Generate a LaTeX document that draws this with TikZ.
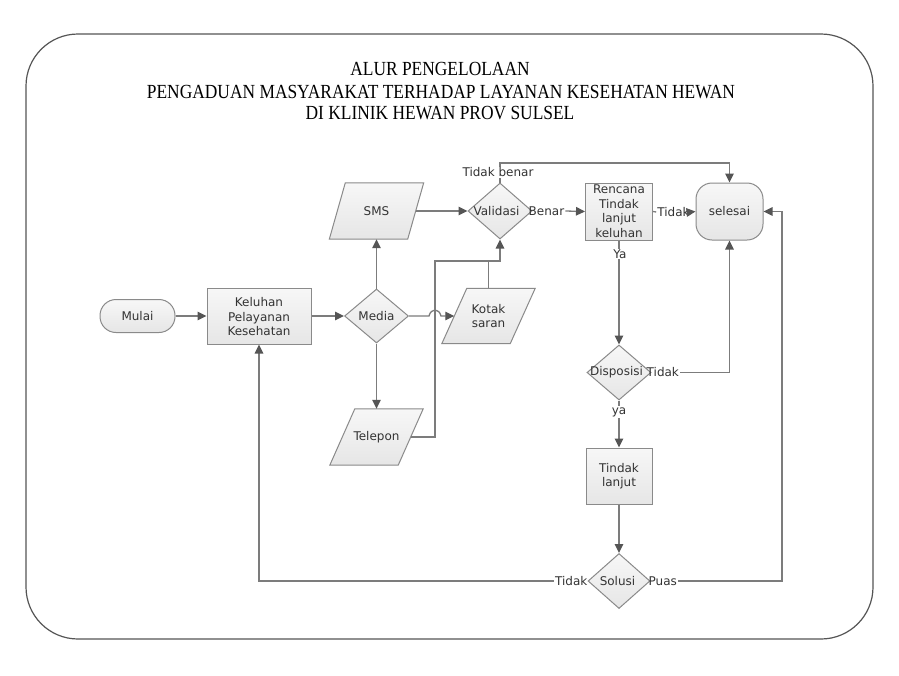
\documentclass[tikz,border=0pt]{standalone}
\usepackage{graphicx}
\usepackage{fontspec}
\setmainfont{Liberation Serif}
\newfontfamily\nodefont{DejaVu Sans}
\usetikzlibrary{arrows.meta,shapes.geometric,calc}
\definecolor{linec}{HTML}{7C7C7C}
\definecolor{arrc}{HTML}{555555}
\definecolor{bordc}{HTML}{8A8A8A}
\definecolor{txtc}{HTML}{333333}
\definecolor{fillt}{HTML}{F7F7F7}
\definecolor{fillb}{HTML}{E6E6E6}
\definecolor{framec}{HTML}{555555}
\begin{document}
\begin{tikzpicture}[x=1pt,y=-1pt,
  shapebox/.style={draw=bordc, line width=1pt, top color=fillt, bottom color=fillb, inner sep=0pt},
  decbox/.style={shapebox, diamond, minimum width=64pt, minimum height=56pt},
  holder/.style={draw=none, inner sep=0pt, rectangle},
  para/.style={draw=bordc, line width=1pt, top color=fillt, bottom color=fillb},
  txt/.style={font=\nodefont\fontsize{12}{14.5}\selectfont, text=txtc, align=center, inner sep=0pt},
  lab/.style={txt, inner sep=1pt},
  labw/.style={lab, fill=white},
  arr/.style={draw=linec, line width=1.3pt, -{Triangle[length=9pt,width=8.5pt,color=arrc]}},
  ln/.style={draw=linec, line width=1.3pt},
  ttl/.style={font=\fontsize{20}{22}\selectfont, anchor=base, inner sep=0pt, text=black}
]
\useasboundingbox (0,0) rectangle (899,675);
\fill[white] (0,0) rectangle (899,675);
% frame
\draw[framec, line width=1.2pt, rounded corners=52pt] (26,34) rectangle (873,639);

% title
\node[ttl] (t1) at (440,75.7) {\scalebox{0.87}[1]{ALUR PENGELOLAAN}};
\node[ttl] (t2) at (441,98.3) {\scalebox{0.87}[1]{PENGADUAN MASYARAKAT TERHADAP LAYANAN KESEHATAN HEWAN}};
\node[ttl] (t3) at (440,119.3) {\scalebox{0.87}[1]{DI KLINIK HEWAN PROV SULSEL}};

% shapes
\node[shapebox, rounded corners=16pt, minimum width=75pt, minimum height=33pt] (mulai) at (137.5,316) {};
\node[txt] (mulaiT) at (mulai) {Mulai};

\node[shapebox, minimum width=104pt, minimum height=56pt] (kel) at (259,316) {};
\node[txt] (kelT) at ([yshift=-1pt]kel.center) {Keluhan\\Pelayanan\\Kesehatan};

\node[decbox, minimum height=54pt] (media) at (376.5,316) {};
\node[txt] (mediaT) at (media) {Media};

\node[holder, minimum width=94pt, minimum height=56pt] (sms) at (376.5,211) {};
\path[para] ([xshift=16pt]sms.north west) -- (sms.north east) -- ([xshift=-16pt]sms.south east) -- (sms.south west) -- cycle;
\node[txt] (smsT) at (sms) {SMS};

\node[holder, minimum width=93pt, minimum height=56pt] (tel) at (376.5,437) {};
\path[para] ([xshift=25pt]tel.north west) -- (tel.north east) -- ([xshift=-25pt]tel.south east) -- (tel.south west) -- cycle;
\node[txt] (telT) at (tel) {Telepon};

\node[holder, minimum width=93pt, minimum height=55pt] (kotak) at (488.5,316) {};
\path[para] ([xshift=25pt]kotak.north west) -- (kotak.north east) -- ([xshift=-25pt]kotak.south east) -- (kotak.south west) -- cycle;
\node[txt] (kotakT) at (kotak) {Kotak\\saran};

\node[decbox] (valid) at (500,211) {};
\node[txt] (validT) at ([xshift=-3.5pt]valid.center) {Validasi};

\node[shapebox, minimum width=67pt, minimum height=57pt] (ren) at (619,211.5) {};
\node[txt] (renT) at ([yshift=0.5pt]ren.center) {Rencana\\Tindak\\lanjut\\keluhan};

\node[shapebox, rounded corners=16pt, minimum width=67pt, minimum height=57pt] (sel) at (729.5,211.5) {};
\node[txt] (selT) at (sel) {selesai};

\node[decbox, minimum height=55pt] (disp) at (619,372.5) {};
\node[txt] (dispT) at ([xshift=-2.5pt]disp.center) {Disposisi};

\node[shapebox, minimum width=66pt, minimum height=56pt] (tl) at (619,476) {};
\node[txt] (tlT) at (tl) {Tindak\\lanjut};

\node[decbox, minimum width=62pt, minimum height=55pt] (sol) at (619,581) {};
\node[txt] (solT) at ([xshift=-1.5pt]sol.center) {Solusi};

\coordinate (jx) at (435,261);
\coordinate (topc) at (500,163);
\coordinate (rc) at (782,582);

% connectors
\draw[arr] (mulai.east) -- (kel.west);
\draw[arr] (kel.east) -- (media.west);
\draw[arr] (media.north) -- (sms.south);
\draw[arr] (media.south) -- (tel.north);
\draw[arr] (media.east) -- ([xshift=-6pt]jx |- media.east)
   .. controls ([xshift=-4pt,yshift=8pt]jx |- media.east) and ([xshift=4pt,yshift=8pt]jx |- media.east) ..
   ([xshift=6pt]jx |- media.east) -- ([xshift=12.5pt]kotak.west);
\draw[arr] ([xshift=-8pt]sms.east) -- (valid.west);
\draw[arr] ([xshift=-12.5pt]tel.east) -| (jx) -| (valid.south);
\draw[ln] (kotak.north) -- (kotak.north |- jx);

\node[lab, anchor=west] (lbBenar) at ([xshift=-5pt]valid.east) {Benar};
\draw[arr] (lbBenar.east) -- (ren.west);

\draw[arr] (valid.north) -- (topc) -| (sel.north);
\node[labw] (lbTB) at (498,172.5) {Tidak benar};

\node[lab] (lbT1) at (673.5,212) {Tidak};
\draw[ln] (ren.east) -- (lbT1.west);
\draw[arr] (lbT1.east) -- (sel.west);

\draw[arr] (ren.south) -- (disp.north);
\node[labw] (lbYa) at (620,254) {Ya};

\node[lab, anchor=west] (lbT2) at ([xshift=-6pt]disp.east) {Tidak};
\draw[arr] (lbT2.east) -| (sel.south);

\draw[arr] (disp.south) -- (tl.north);
\node[labw] (lbya) at (619,412) {ya};

\draw[arr] (tl.south) -- (sol.north);

\node[lab, anchor=east] (lbT3) at ([xshift=1pt]sol.west) {Tidak};
\draw[arr] (lbT3.west) -| (kel.south);

\node[lab, anchor=west] (lbP) at ([xshift=-3pt]sol.east) {Puas};
\draw[arr] (lbP.east) -| (rc |- sel.east) -- (sel.east);
\end{tikzpicture}
\end{document}
